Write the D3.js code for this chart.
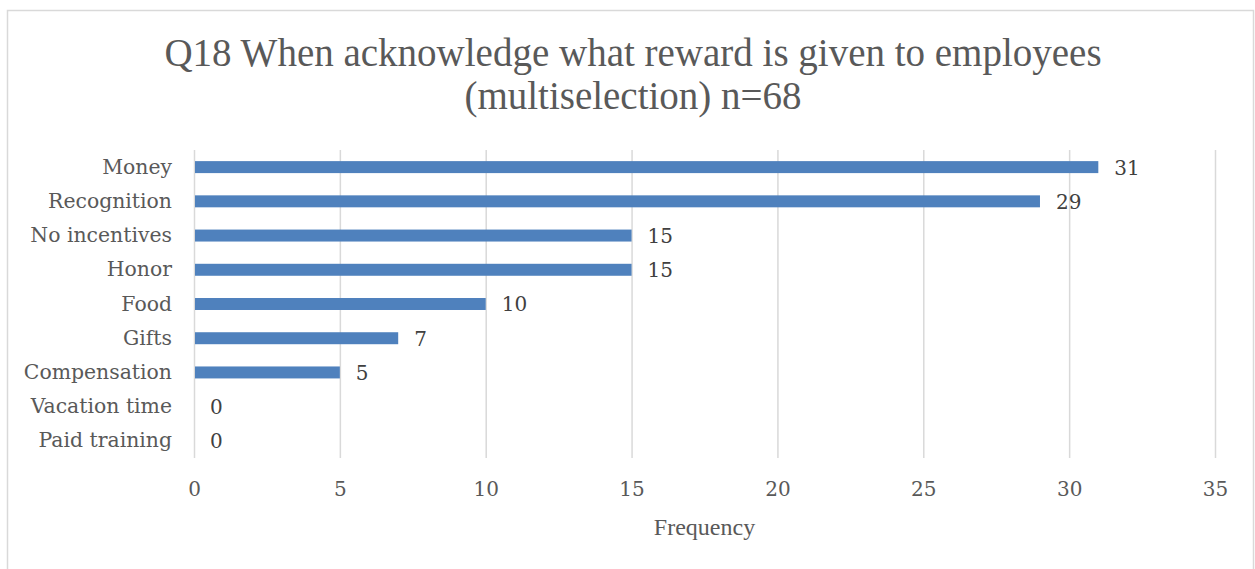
<!DOCTYPE html>
<html>
<head>
<meta charset="utf-8">
<script src="https://cdn.jsdelivr.net/npm/d3@7"></script>
<style>
  html, body { margin: 0; padding: 0; background: #fff; }
  svg { display: block; }
  text { font-family: "Liberation Serif", "DejaVu Serif", serif; fill: #595959; }
  .lbl { font-family: "DejaVu Serif", "Liberation Serif", serif; }
</style>
</head>
<body>
<svg id="chart" width="1255" height="569"></svg>
<script>
// Reward types, top to bottom
const categories = ["Money", "Recognition", "No incentives", "Honor", "Food", "Gifts", "Compensation", "Vacation time", "Paid training"];
// Number of respondents selecting each reward
const counts = [31, 29, 15, 15, 10, 7, 5, 0, 0];
const xTicks = [0, 5, 10, 15, 20, 25, 30, 35];
const titleLines = ["Q18 When acknowledge what reward is given to employees", "(multiselection) n=68"];
const xAxisTitle = "Frequency";

const svg = d3.select("#chart");
const W = 1255, H = 569;

// chart frame
svg.append("rect")
  .attr("x", 7.5).attr("y", 10.5)
  .attr("width", W - 9).attr("height", H)
  .attr("fill", "#fff").attr("stroke", "#d9d9d9").attr("stroke-width", 1.5);

const plot = { left: 194, right: 1215, top: 150, bottom: 458 };

const x = d3.scaleLinear().domain([0, 35]).range([plot.left, plot.right]);
const y = d3.scaleBand().domain(categories).range([plot.top, plot.bottom])
  .paddingInner(0.65).paddingOuter(0.325);

// vertical gridlines
svg.append("g").selectAll("line").data(xTicks).join("line")
  .attr("x1", d => x(d) + 0.5).attr("x2", d => x(d) + 0.5)
  .attr("y1", plot.top).attr("y2", plot.bottom)
  .attr("stroke", "#d9d9d9").attr("stroke-width", 1.5);

// bars
svg.append("g").selectAll("rect").data(counts).join("rect")
  .attr("x", x(0) + 1)
  .attr("y", (d, i) => y(categories[i]))
  .attr("width", d => Math.max(0, x(d) - x(0) - 1))
  .attr("height", y.bandwidth())
  .attr("fill", "#4f81bd");

// value labels
svg.append("g").selectAll("text").data(counts).join("text")
  .attr("class", "lbl")
  .attr("x", d => x(d) + 16)
  .attr("y", (d, i) => y(categories[i]) + y.bandwidth() / 2)
  .attr("dy", "0.37em")
  .attr("font-size", 20)
  .style("fill", "#404040")
  .text(d => d);

// category axis
const yAxis = d3.axisLeft(y).tickSize(0).tickPadding(22);
const gy = svg.append("g").attr("transform", `translate(${plot.left},0)`).call(yAxis);
gy.select(".domain").remove();
gy.selectAll("text").attr("class", "lbl").attr("font-size", 20.4).attr("fill", null);
gy.attr("font-family", null);

// value axis
const xAxis = d3.axisBottom(x).tickValues(xTicks).tickSize(0).tickPadding(24);
const gx = svg.append("g").attr("transform", `translate(0,${plot.bottom})`).call(xAxis);
gx.select(".domain").remove();
gx.selectAll("text").attr("class", "lbl").attr("font-size", 20).attr("fill", null);
gx.attr("font-family", null);

// axis title
svg.append("text")
  .attr("x", (plot.left + plot.right) / 2).attr("y", 535)
  .attr("text-anchor", "middle").attr("font-size", 24)
  .text(xAxisTitle);

// chart title
svg.append("g").selectAll("text").data(titleLines).join("text")
  .attr("x", 633).attr("y", (d, i) => 66 + i * 43)
  .attr("text-anchor", "middle").attr("font-size", 39)
  .text(d => d);
</script>
</body>
</html>
